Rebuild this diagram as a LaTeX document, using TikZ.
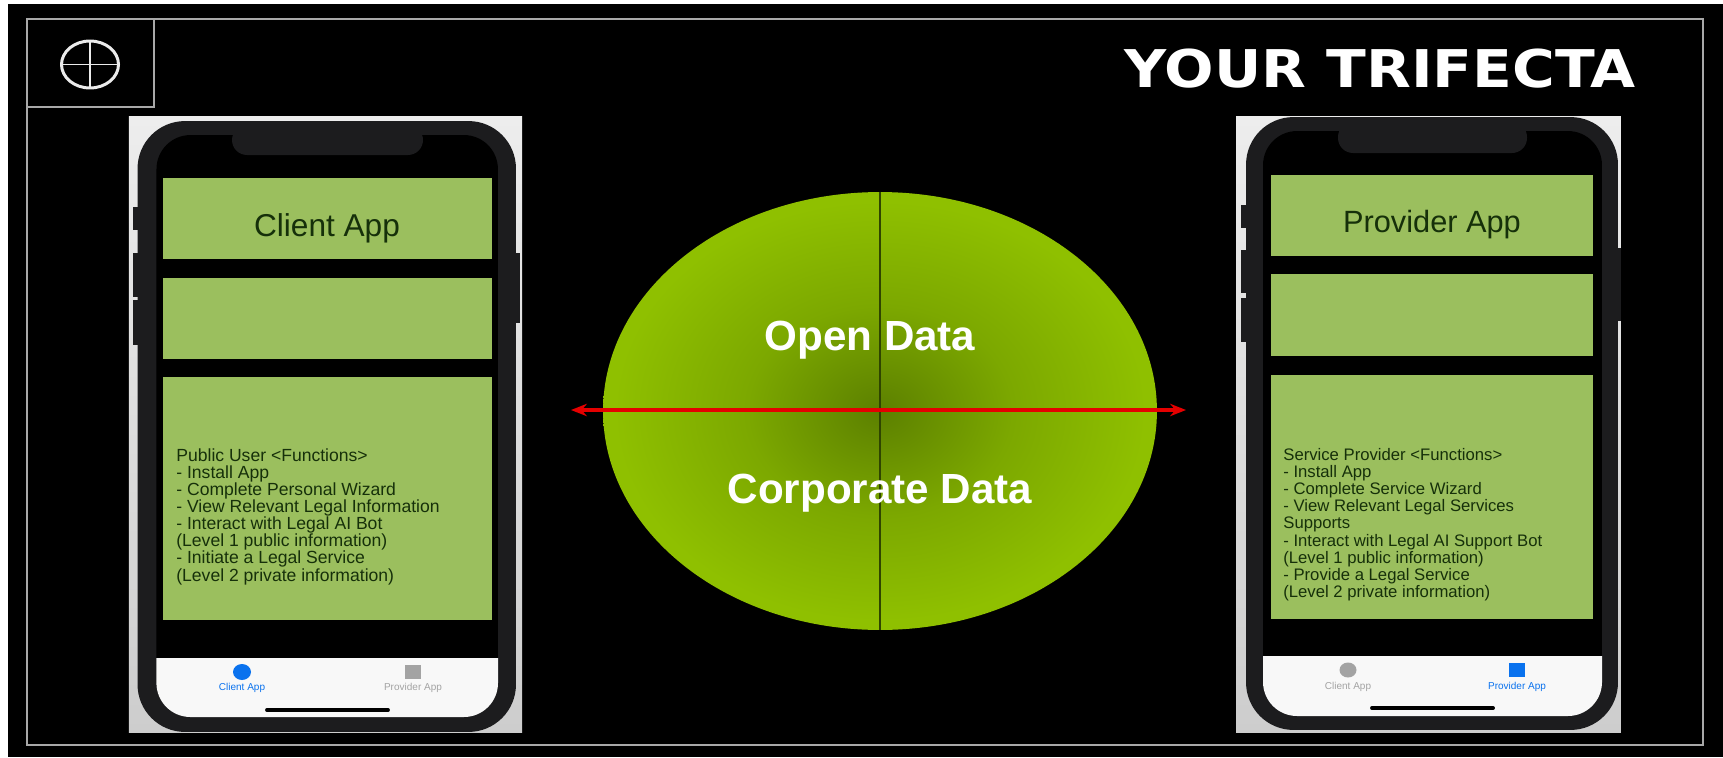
\documentclass[tikz,border=0pt]{standalone}
\usepackage{fontspec}
\setmainfont{Liberation Sans}
\newfontfamily\titlefont[FakeStretch=1.12]{DejaVu Sans}
\usetikzlibrary{shapes.geometric}
\usetikzlibrary{arrows.meta}
\definecolor{boxgreen}{HTML}{9BBF5E}
\definecolor{textgreen}{HTML}{16300A}
\definecolor{phonedark}{HTML}{1C1C1E}
\definecolor{phonetop}{HTML}{EDEDED}
\definecolor{phonelow}{HTML}{CDCDCD}
\definecolor{barwhite}{HTML}{F8F8F8}
\definecolor{tabblue}{HTML}{0A72EE}
\definecolor{tabgrey}{HTML}{A3A3A3}
\definecolor{framegrey}{HTML}{A8A8A8}
\definecolor{datadark}{HTML}{5C8000}
\definecolor{datamid}{HTML}{7CA800}
\definecolor{datalight}{HTML}{8FC000}
\definecolor{datahair}{HTML}{2F4500}
\pgfdeclareradialshading{datashade}{\pgfpointorigin}{color(0bp)=(datadark); color(12bp)=(datamid); color(24bp)=(datalight); color(50bp)=(datalight)}
\tikzset{
    phoneback/.style = {rectangle, top color=phonetop, bottom color=phonelow, minimum height=12.34cm, inner sep=0},
    phonebody/.style = {rectangle, rounded corners=0.95cm, fill=phonedark, inner sep=0},
    phonescreen/.style = {rectangle, rounded corners=0.68cm, fill=black, inner sep=0},
    phonekey/.style = {fill=phonedark},
    phonenotch/.style = {fill=phonedark, rounded corners=0.3cm},
    phonebar/.style = {fill=barwhite},
    phonehome/.style = {line width=2.2pt, black, line cap=round},
    greenbox/.style = {rectangle, fill=boxgreen, inner sep=0},
    greentext/.style = {inner sep=0, text=textgreen},
    functext/.style = {anchor=north west, inner sep=0, align=left, text=textgreen},
    tablabel/.style = {inner sep=0, font=\fontsize{5.7}{6}\selectfont},
    tabround/.style = {ellipse, fill, inner sep=0},
    tabsquare/.style = {rectangle, fill, inner sep=0},
    dataround/.style = {ellipse, shade, shading=datashade, inner sep=0, minimum width=11.08cm, minimum height=8.76cm},
    datatext/.style = {anchor=base, inner sep=0, text=white, font=\fontsize{24}{26}\bfseries\selectfont},
    edgered/.style = {{Stealth[length=9pt,width=7pt]}-{Stealth[length=9pt,width=7pt]}, line width=1.9pt, red!90!black},
    edgedark/.style = {-, line width=0.65pt, datahair},
    framelines/.style = {line width=1.1pt, framegrey},
    logoround/.style = {ellipse, draw=white!92!black, line width=1.7pt, inner sep=0, minimum width=1.14cm, minimum height=0.94cm},
    logocross/.style = {-, line width=1.1pt, white!92!black}
}
\begin{document}
\begin{tikzpicture}[x=0.02cm,y=-0.02cm]
\useasboundingbox (0,0) rectangle (1723,757);
\fill[white] (0,0) rectangle (1723,757);
\fill[black] (8,4) rectangle (1723,757);
% frame and logo
\draw[framelines] (27,19) rectangle (1703,745);
\draw[framelines] (27,107) -- (154,107) -- (154,19);
\node[logoround] at (90,64.5) (logo) {};
\draw[logocross] (logo.north) -- (logo.south);
\draw[logocross] (logo.west) -- (logo.east);
\node[text=white, inner sep=0, font=\titlefont\fontsize{29.6}{32}\bfseries\selectfont] at (1380,69) (title) {YOUR TRIFECTA};
% client phone
\node[phoneback, minimum width=7.87cm] at (325.5,424.5) (clientback) {};
\fill[phonekey] (133,207) rectangle (138,230);
\fill[phonekey] (133,253) rectangle (138,297);
\fill[phonekey] (133,300) rectangle (138,345);
\fill[phonekey] (515,253) rectangle (520,323);
\node[phonebody, minimum width=7.57cm, minimum height=12.22cm] at (326.75,426.5) (clientbody) {};
\node[phonescreen, minimum width=6.83cm, minimum height=11.64cm] at (327.2,426) (clientscreen) {};
\fill[phonenotch] (232,125) -- (232,155) -- (423,155) -- (423,125) -- cycle;
\node[greenbox, minimum width=6.58cm, minimum height=1.62cm] at (327.5,218.5) (clienttop) {};
\node[greentext, font=\fontsize{18}{20}\selectfont] at (327,228) (clienttitle) {Client App};
\node[greenbox, minimum width=6.58cm, minimum height=1.62cm] at (327.5,318.5) (clientmid) {};
\node[greenbox, minimum width=6.58cm, minimum height=4.86cm] at (327.5,498.5) (clientlist) {};
\node[functext, font=\fontsize{10}{9.75}\selectfont] at (176,448) (clientfunc) {Public User <Functions>\\- Install App\\- Complete Personal Wizard\\- View Relevant Legal Information\\- Interact with Legal AI Bot\\(Level 1 public information)\\- Initiate a Legal Service\\(Level 2 private information)};
\path[phonebar] (156.4,658) [rounded corners=0.68cm] -- (156.4,717) -- (498,717) [sharp corners] -- (498,658) -- cycle;
\node[tabround, tabblue, minimum width=0.36cm, minimum height=0.32cm] at (242,672) (clientdot) {};
\node[tablabel, text=tabblue] at (242,688) (clientlabel) {Client App};
\node[tabsquare, tabgrey, minimum width=0.32cm, minimum height=0.28cm] at (413,672) (clientsq) {};
\node[tablabel, text=tabgrey] at (413,688) (clientlabelb) {Provider App};
\coordinate (clienthomel) at (267,710);
\coordinate (clienthomer) at (388,710);
\draw[phonehome] (clienthomel) -- (clienthomer);
% provider phone
\node[phoneback, minimum width=7.7cm] at (1428.5,424.5) (provback) {};
\fill[phonekey] (1241,205) rectangle (1247,228);
\fill[phonekey] (1241,250) rectangle (1247,293);
\fill[phonekey] (1241,298) rectangle (1247,342);
\fill[phonekey] (1617,248) rectangle (1621,321);
\node[phonebody, minimum width=7.44cm, minimum height=12.26cm] at (1432,423.5) (provbody) {};
\node[phonescreen, minimum width=6.78cm, minimum height=11.7cm] at (1432.5,423.5) (provscreen) {};
\fill[phonenotch] (1338,122) -- (1338,153) -- (1527,153) -- (1527,122) -- cycle;
\node[greenbox, minimum width=6.44cm, minimum height=1.62cm] at (1432,215.5) (provtop) {};
\node[greentext, font=\fontsize{17.5}{20}\selectfont] at (1432,225) (provtitle) {Provider App};
\node[greenbox, minimum width=6.44cm, minimum height=1.64cm] at (1432,315) (provmid) {};
\node[greenbox, minimum width=6.44cm, minimum height=4.88cm] at (1432,497) (provlist) {};
\node[functext, font=\fontsize{9.5}{9.75}\selectfont] at (1283,448) (provfunc) {Service Provider <Functions>\\- Install App\\- Complete Service Wizard\\- View Relevant Legal Services\\Supports\\- Interact with Legal AI Support Bot\\(Level 1 public information)\\- Provide a Legal Service\\(Level 2 private information)};
\path[phonebar] (1263,656) [rounded corners=0.68cm] -- (1263,716) -- (1602,716) [sharp corners] -- (1602,656) -- cycle;
\node[tabround, tabgrey, minimum width=0.34cm, minimum height=0.3cm] at (1348,670) (provdot) {};
\node[tablabel, text=tabgrey] at (1348,687) (provlabel) {Client App};
\node[tabsquare, tabblue, minimum width=0.32cm, minimum height=0.28cm] at (1517,670) (provsq) {};
\node[tablabel, text=tabblue] at (1517,687) (provlabelb) {Provider App};
\coordinate (provhomel) at (1372,708);
\coordinate (provhomer) at (1493,708);
\draw[phonehome] (provhomel) -- (provhomer);
% data circle
\node[dataround] at (880,411) (core) {};
\draw[edgedark] (core.north) -- (core.south);
\node[datatext] at (870,350) (opendata) {Open Data};
\node[datatext] at (880,503) (corpdata) {Corporate Data};
\coordinate (arrowl) at (571,410);
\coordinate (arrowr) at (1186,410);
\draw[edgered] (arrowl) -- (arrowr);
\end{tikzpicture}
\end{document}
